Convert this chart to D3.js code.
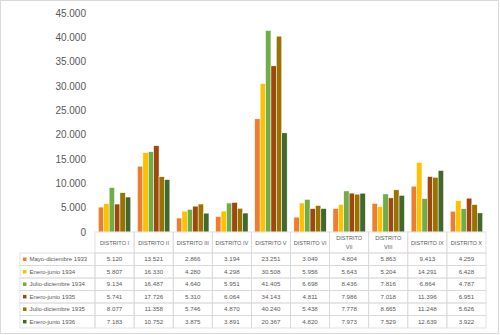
<!DOCTYPE html>
<html>
<head>
<meta charset="utf-8">
<script src="https://cdn.jsdelivr.net/npm/d3@7"></script>
<style>
  body { margin: 0; background: #fff; }
  svg { display: block; font-family: "Liberation Sans", Arial, sans-serif; }
</style>
</head>
<body>
<svg width="500" height="335"></svg>
<script>
const categories = ["DISTRITO I", "DISTRITO II", "DISTRITO III", "DISTRITO IV", "DISTRITO V",
    "DISTRITO VI", "DISTRITO VII", "DISTRITO VIII", "DISTRITO IX", "DISTRITO X"]
const seriesNames = ["Mayo-diciembre 1933", "Enero-junio 1934", "Julio-diciembre 1934",
    "Enero-junio 1935", "Julio-diciembre 1935", "Enero-junio 1936"]
const may33 = [5120, 13521, 2866, 3194, 23251, 3049, 4804, 5863, 9413, 4259]
const jan34 = [5807, 16330, 4280, 4298, 30508, 5956, 5643, 5204, 14291, 6428]
const jul34 = [9134, 16487, 4640, 5951, 41405, 6698, 8436, 7816, 6864, 4787]
const jan35 = [5741, 17726, 5310, 6064, 34143, 4811, 7986, 7018, 11396, 6951]
const jul35 = [8077, 11358, 5746, 4870, 40240, 5438, 7778, 8665, 11248, 5626]
const jan36 = [7183, 10752, 3875, 3891, 20367, 4820, 7973, 7529, 12639, 3922]
const yTicks = [0, 5000, 10000, 15000, 20000, 25000, 30000, 35000, 40000, 45000]

const colors = ["#ED7D31", "#FFC000", "#70AD47", "#9E480E", "#997300", "#43682B"]
const seriesValues = [may33, jan34, jul34, jan35, jul35, jan36]

const svg = d3.select("svg")
const fmt = d3.formatLocale({ decimal: ",", thousands: ".", grouping: [3], currency: ["", ""] }).format(",d")

// outer chart frame
svg.append("rect")
    .attr("x", 0.5).attr("y", 0.5)
    .attr("width", 498).attr("height", 333)
    .style("fill", "white")
    .style("stroke", "#d9d9d9")

const xScale = d3.scaleBand()
    .domain(categories)
    .range([95, 486])

const yScale = d3.scaleLinear()
    .domain([0, 45000])
    .range([232, 13])

const inner = d3.scaleBand()
    .domain(d3.range(seriesNames.length))
    .range([0, xScale.bandwidth()])
    .paddingOuter(0.62)
    .paddingInner(0)

// y axis labels, no line
const yAxis = svg.append("g")
    .attr("transform", "translate(86,0)")
    .call(d3.axisLeft(yScale).tickValues(yTicks).tickFormat(d => fmt(d)).tickSize(0).tickPadding(0))
yAxis.select(".domain").remove()
yAxis.selectAll("text")
    .style("font-size", "10px")
    .style("fill", "#595959")
    .style("font-family", "\"Liberation Sans\", Arial, sans-serif")

// bars
seriesValues.forEach(function (vals, s) {
    svg.append("g")
        .selectAll("rect")
        .data(vals)
        .enter()
        .append("rect")
        .attr("x", (d, i) => xScale(categories[i]) + inner(s))
        .attr("y", d => yScale(d))
        .attr("width", inner.bandwidth())
        .attr("height", d => yScale(0) - yScale(d))
        .style("fill", colors[s])
        .style("stroke", "white")
        .style("stroke-width", 0.5)
})

// data table
const headTop = yScale(0)
const rowTop = 253
const rowH = 12.5
const tableLeft = 20
const lineCol = "#d9d9d9"
const t = svg.append("g")

// header cells
t.selectAll(".hcell")
    .data(categories)
    .enter()
    .append("rect")
    .attr("x", d => xScale(d))
    .attr("y", headTop)
    .attr("width", xScale.bandwidth())
    .attr("height", rowTop - headTop)
    .style("fill", "none")
    .style("stroke", lineCol)
    .style("stroke-width", 0.8)

categories.forEach(function (c) {
    const words = c.split(" ")
    const cx = xScale(c) + xScale.bandwidth() / 2
    const txt = t.append("text")
        .attr("x", cx)
        .attr("text-anchor", "middle")
        .style("font-size", "5.6px")
        .style("fill", "#595959")
    if (words[1] == "VII" || words[1] == "VIII") {
        txt.append("tspan").attr("x", cx).attr("y", 240).text(words[0])
        txt.append("tspan").attr("x", cx).attr("y", 249).text(words[1])
    } else {
        txt.attr("y", 244.5).text(c)
    }
})

// body rows
seriesNames.forEach(function (name, s) {
    const y0 = rowTop + s * rowH
    t.append("rect")
        .attr("x", tableLeft).attr("y", y0)
        .attr("width", xScale.range()[0] - tableLeft).attr("height", rowH)
        .style("fill", "none").style("stroke", lineCol).style("stroke-width", 0.8)
    t.append("rect")
        .attr("x", tableLeft + 3).attr("y", y0 + rowH / 2 - 1.8)
        .attr("width", 3.5).attr("height", 3.5)
        .style("fill", colors[s])
    t.append("text")
        .attr("x", tableLeft + 9.5).attr("y", y0 + rowH / 2 + 2.2)
        .style("font-size", "6px").style("fill", "#595959")
        .text(name)
    seriesValues[s].forEach(function (v, i) {
        t.append("rect")
            .attr("x", xScale(categories[i])).attr("y", y0)
            .attr("width", xScale.bandwidth()).attr("height", rowH)
            .style("fill", "none").style("stroke", lineCol).style("stroke-width", 0.8)
        t.append("text")
            .attr("x", xScale(categories[i]) + xScale.bandwidth() / 2)
            .attr("y", y0 + rowH / 2 + 2.2)
            .attr("text-anchor", "middle")
            .style("font-size", "6.2px").style("fill", "#595959")
            .text(fmt(v))
    })
})
</script>
</body>
</html>
